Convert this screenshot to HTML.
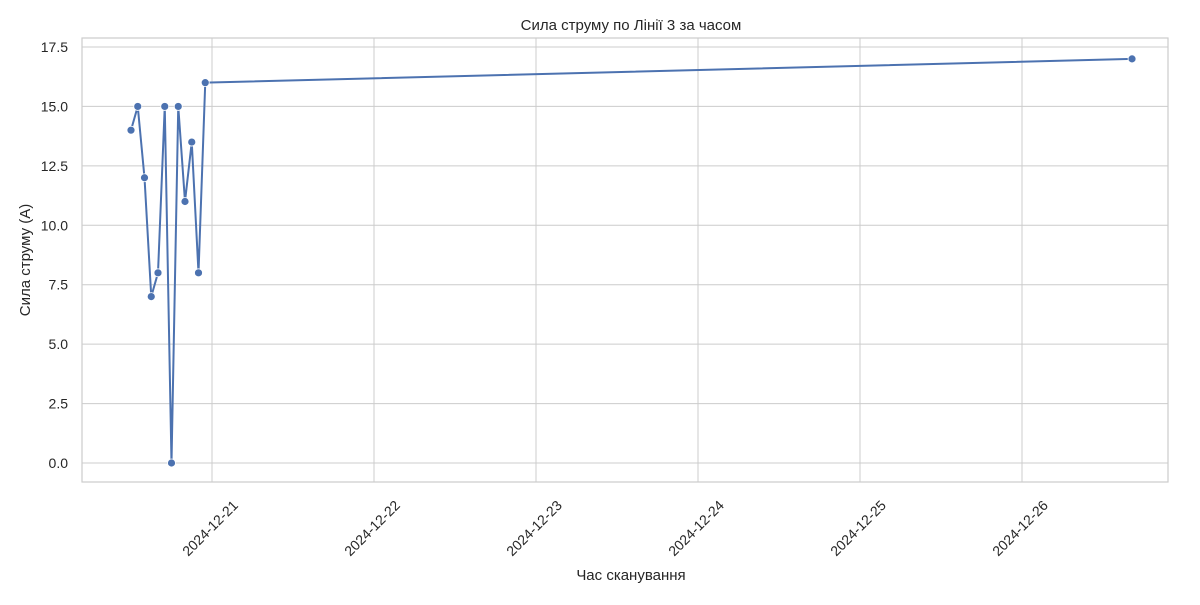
<!DOCTYPE html>
<html><head><meta charset="utf-8"><style>
body{margin:0;background:#fff}
text{font-family:"Liberation Sans","DejaVu Sans",sans-serif;fill:#262626}
</style></head><body>
<svg id="chart" width="1200" height="600" xmlns="http://www.w3.org/2000/svg">
<rect width="1200" height="600" fill="#fff"/>
<g id="grid"></g><g id="axes"></g><g id="series"></g>
<text x="631" y="30" text-anchor="middle" font-size="15">Сила струму по Лінії 3 за часом</text>
<text x="631" y="580" text-anchor="middle" font-size="15">Час сканування</text>
<text transform="translate(30,260) rotate(-90)" text-anchor="middle" font-size="15">Сила струму (А)</text>
</svg>
<script>
// time in hours relative to 2024-12-21 00:00
const timesHours = [-12,-11,-10,-9,-8,-7,-6,-5,-4,-3,-2,-1,136.3];
const currents = [14,15,12,7,8,15,0,15,11,13.5,8,16,17];
const yTicks = [0,2.5,5,7.5,10,12.5,15,17.5];
const xTickDays = [0,1,2,3,4,5];
const xTickLabels = ["2024-12-21","2024-12-22","2024-12-23","2024-12-24","2024-12-25","2024-12-26"];

const L=82,R=1168,T=38,B=482;
const x = h => 212 + h/24*162;
const y = v => 463 - v/2.5*59.43;
const ns="http://www.w3.org/2000/svg";
function mk(tag,attrs,parent){const e=document.createElementNS(ns,tag);for(const k in attrs)e.setAttribute(k,attrs[k]);parent.appendChild(e);return e;}
const grid=document.getElementById('grid'),axes=document.getElementById('axes'),series=document.getElementById('series');
mk('rect',{x:L,y:T,width:R-L,height:B-T,fill:'none',stroke:'#cccccc','stroke-width':1.2},axes);
yTicks.forEach(v=>{
  const g=mk('line',{x1:L,x2:R,y1:y(v),y2:y(v),stroke:'#cccccc','stroke-width':1},grid);
  
  
  const t=mk('text',{x:L-14,y:y(v)+5,'text-anchor':'end','font-size':14},axes);
  t.textContent=v.toFixed(1);
  
  
});
xTickDays.forEach((d,i)=>{
  const xx=x(d*24);
  const g=mk('line',{x1:xx,x2:xx,y1:T,y2:B,stroke:'#cccccc','stroke-width':1},grid);
  
  
  const t=mk('text',{transform:`translate(${xx-2},${B+46}) rotate(-45)`,'text-anchor':'middle','font-size':14,dy:'5'},axes);
  t.textContent=xTickLabels[i];
  
  
});
const pts=timesHours.map((h,i)=>x(h)+','+y(currents[i])).join(' ');
const pl=mk('polyline',{points:pts,fill:'none',stroke:'#4c72b0','stroke-width':2,'stroke-linejoin':'round'},series);


timesHours.forEach((h,i)=>{
  const c=mk('circle',{cx:x(h),cy:y(currents[i]),r:4,fill:'#4c72b0',stroke:'#fff','stroke-width':0.8},series);
  
  
});
</script>
</body></html>
